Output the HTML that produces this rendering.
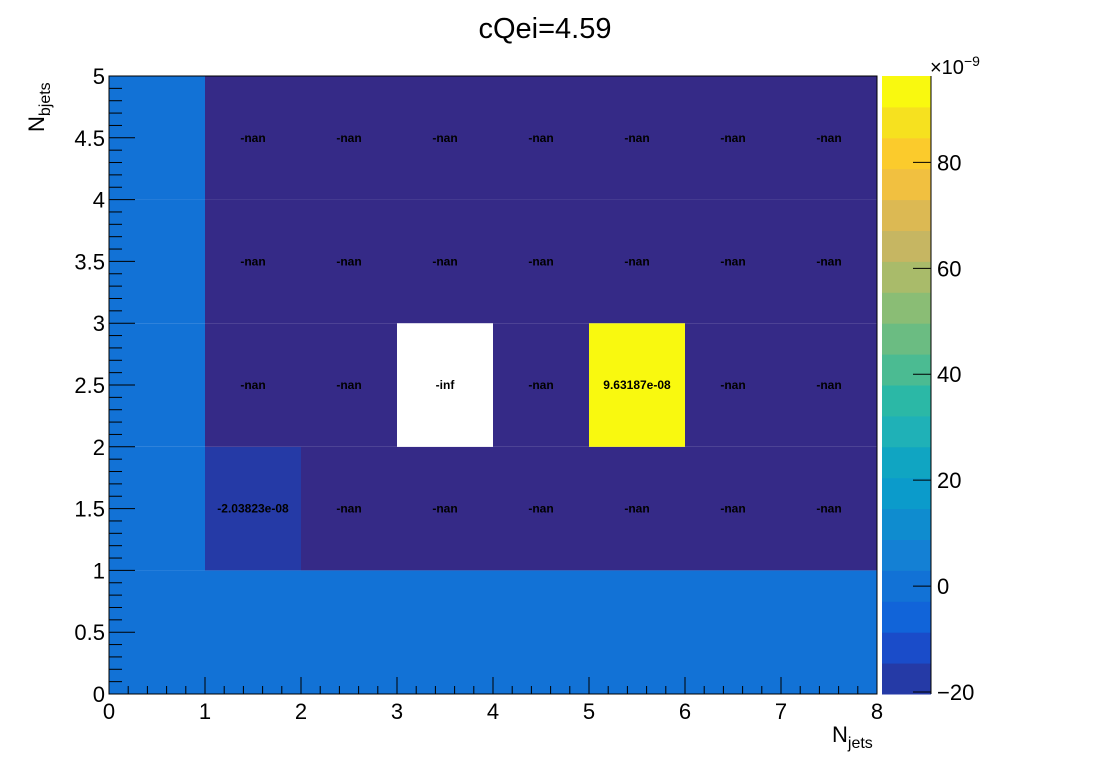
<!DOCTYPE html>
<html><head><meta charset="utf-8"><style>
body{margin:0;background:#fff;font-family:"Liberation Sans",Arial,sans-serif}
svg text{font-family:"Liberation Sans",Arial,sans-serif}
</style></head><body>
<svg id="c" width="1096" height="772" xmlns="http://www.w3.org/2000/svg"></svg>
<script>
const xEdges=[0,1,2,3,4,5,6,7,8];
const yEdges=[0,1,2,3,4,5];
// cell values [row y-bin][col x-bin]; null = nan, "-inf" special, units 1e-9
const rowLabels=[
 ["", "", "", "", "", "", "", ""],
 ["", "-2.03823e-08","-nan","-nan","-nan","-nan","-nan","-nan"],
 ["", "-nan","-nan","-inf","-nan","9.63187e-08","-nan","-nan"],
 ["", "-nan","-nan","-nan","-nan","-nan","-nan","-nan"],
 ["", "-nan","-nan","-nan","-nan","-nan","-nan","-nan"]
];
const cellValues=[
 [0,0,0,0,0,0,0,0],
 [0,-20.3823,"nan","nan","nan","nan","nan","nan"],
 [0,"nan","nan","-inf","nan",96.3187,"nan","nan"],
 [0,"nan","nan","nan","nan","nan","nan","nan"],
 [0,"nan","nan","nan","nan","nan","nan","nan"]
];
const zMin=-20.3823, zMax=96.3187;
const paletteColors=["#253aa6","#1a4cc9","#1164d9","#1272d6","#1480d4","#0f8ccf","#0b9bcb","#10a5c2","#1fb1b7","#2bb8a6","#4bbb92","#6bbc82","#8abd75","#a9bb6a","#c6b662","#dcb953","#f1c040","#fbcb2c","#f6e11f","#f9f90f"];
const xTicks=[0,1,2,3,4,5,6,7,8];
const yTicks=[0,0.5,1,1.5,2,2.5,3,3.5,4,4.5,5];
const zTicks=[-20,0,20,40,60,80];

const NS="http://www.w3.org/2000/svg";
const svg=document.getElementById('c');
const X0=109,X1=877,Y0=694,Y1=76;
const sx=v=>X0+(v-0)/(8-0)*(X1-X0);
const sy=v=>Y0-(v-0)/(5-0)*(Y0-Y1);
const ZX0=882,ZX1=931;
const sz=v=>Y0-(v-zMin)/(zMax-zMin)*(Y0-Y1);
function mk(t,a,p){const e=document.createElementNS(NS,t);for(const k in a)e.setAttribute(k,a[k]);(p||svg).appendChild(e);return e;}
function colorOf(v){
 if(v==="nan")return "#352a87";
 if(v==="-inf")return "#ffffff";
 let i=Math.floor((v-zMin)/(zMax-zMin)*paletteColors.length);
 i=Math.max(0,Math.min(paletteColors.length-1,i));return paletteColors[i];
}
// title
let t=mk('text',{x:545,y:38,'font-size':29,'text-anchor':'middle'});t.textContent="cQei=4.59";


// cells
for(let r=0;r<yEdges.length-1;r++)for(let c=0;c<xEdges.length-1;c++){
 const x=sx(xEdges[c]),x2=sx(xEdges[c+1]),y=sy(yEdges[r+1]),y2=sy(yEdges[r]);
 const e=mk('rect',{x:x,y:y,width:x2-x,height:y2-y,fill:colorOf(cellValues[r][c])});
 
 
 const lab=rowLabels[r][c];
 if(lab){const tt=mk('text',{x:(x+x2)/2,y:(y+y2)/2+4,'font-size':12,'font-weight':'bold','text-anchor':'middle'});tt.textContent=lab;
 
 }
}
// frame
const fr=mk('rect',{x:X0,y:Y1,width:X1-X0,height:Y0-Y1,fill:'none',stroke:'#000','stroke-width':1});


// x ticks
for(let v=0;v<=8.0001;v+=0.2){const isM=Math.abs(v-Math.round(v))<1e-6;mk('line',{x1:sx(v),x2:sx(v),y1:Y0,y2:Y0-(isM?17:8),stroke:'#000'});}
xTicks.forEach(v=>{const e=mk('text',{x:sx(v),y:Y0+25,'font-size':22,'text-anchor':'middle'});e.textContent=v;
 
 });
// y ticks
for(let i=0;i<=50;i++){const v=i*0.1;const isM=i%5==0;mk('line',{x1:X0,x2:X0+(isM?26:13),y1:sy(v),y2:sy(v),stroke:'#000'});}
yTicks.forEach(v=>{const e=mk('text',{x:X0-4,y:sy(v)+8,'font-size':22,'text-anchor':'end'});e.textContent=v;
 
 });
// axis titles
let xt=mk('text',{x:832,y:742,'font-size':22});xt.innerHTML='N<tspan font-size="16" dy="6">jets</tspan>';


let yt=mk('text',{transform:'translate(44,132) rotate(-90)','font-size':22});yt.innerHTML='N<tspan font-size="16" dy="6">bjets</tspan>';


// palette
paletteColors.forEach((col,i)=>{const a=zMin+i*(zMax-zMin)/paletteColors.length,b=zMin+(i+1)*(zMax-zMin)/paletteColors.length;
 const e=mk('rect',{x:ZX0,y:sz(b),width:ZX1-ZX0,height:sz(a)-sz(b)+0.5,fill:col});
 
 });
mk('line',{x1:ZX1,x2:ZX1,y1:Y1,y2:Y0,stroke:'#000'});
zTicks.forEach(v=>{mk('line',{x1:ZX1-18,x2:ZX1,y1:sz(v),y2:sz(v),stroke:'#000'});
 const e=mk('text',{x:ZX1+6,y:sz(v)+8,'font-size':22});e.textContent=(v<0?'\u2212'+(-v):v);
 
 });
let ex=mk('text',{x:930,y:74,'font-size':20});ex.innerHTML='×10<tspan font-size="14" dy="-8">−9</tspan>';


</script>
</body></html>
